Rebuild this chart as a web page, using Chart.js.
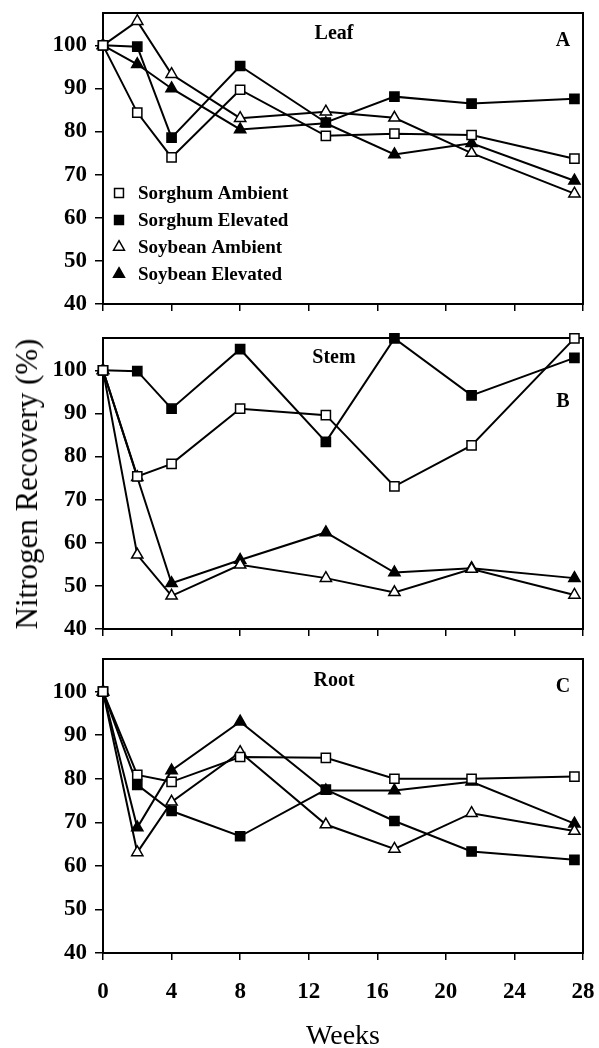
<!DOCTYPE html>
<html>
<head>
<meta charset="utf-8">
<script src="https://cdn.jsdelivr.net/npm/chart.js@4.4.1/dist/chart.umd.min.js"></script>
<style>
  body { margin: 0; background: #fff; }
  #wrap { position: relative; width: 599px; height: 1048px; overflow: hidden; }
  canvas { position: absolute; left: 0; }
  #ytitle {
    position: absolute; left: 27px; top: 484px;
    transform: translate(-50%, -50%) rotate(-90deg);
    font: 31px "Liberation Serif", "Times New Roman", serif;
    white-space: nowrap; color: #000;
  }
</style>
</head>
<body>
<div id="wrap">
  <canvas id="leaf" width="599" height="320" style="top:0"></canvas>
  <canvas id="stem" width="599" height="320" style="top:320px"></canvas>
  <canvas id="root" width="599" height="408" style="top:640px"></canvas>
  <div id="ytitle">Nitrogen Recovery (%)</div>
</div>
<script>
(function(){
  'use strict';

  const weeks = [0, 2, 4, 8, 13, 17, 21.5, 27.5];
  const seriesNames = ['Sorghum Ambient', 'Sorghum Elevated', 'Soybean Ambient', 'Soybean Elevated'];
  const yTickValues = [40, 50, 60, 70, 80, 90, 100];
  const xTickValues = [0, 4, 8, 12, 16, 20, 24, 28];

  // A - leaf
  const leafSorghumAmb = [100, 84.4, 74.0, 89.7, 79.0, 79.5, 79.2, 73.7];
  const leafSorghumElev = [100, 99.7, 78.6, 95.2, 82.1, 88.1, 86.5, 87.6];
  const leafSoyAmb = [100, 105.6, 93.3, 83.1, 84.6, 83.2, 75.0, 65.6];
  const leafSoyElev = [100, 95.6, 90.0, 80.5, 81.9, 74.7, 77.3, 68.6];

  // B - stem
  const stemSorghumAmb = [100, 75.4, 78.3, 91.1, 89.6, 73.1, 82.6, 107.4];
  const stemSorghumElev = [100, 99.8, 91.1, 104.9, 83.4, 107.4, 94.2, 102.9];
  const stemSoyAmb = [100, 57.2, 47.7, 54.9, 51.8, 48.5, 53.9, 47.9];
  const stemSoyElev = [100, 75.2, 50.6, 56.0, 62.4, 53.1, 54.1, 51.8];

  // C - root
  const rootSorghumAmb = [100, 80.9, 79.3, 85.0, 84.8, 80.0, 80.0, 80.5];
  const rootSorghumElev = [100, 78.6, 72.6, 66.8, 77.5, 70.3, 63.3, 61.4];
  const rootSoyAmb = [100, 63.1, 74.7, 86.1, 69.5, 63.9, 72.1, 68.0];
  const rootSoyElev = [100, 68.8, 81.9, 93.1, 77.3, 77.3, 79.3, 69.7];

  const styles = [
    { pointStyle: 'rect', fill: '#fff', r: 6.5 },
    { pointStyle: 'rect', fill: '#000', r: 6.5 },
    { pointStyle: 'triangle', fill: '#fff', r: 6.5 },
    { pointStyle: 'triangle', fill: '#000', r: 6.5 }
  ];

  const serif = '"Liberation Serif", "Times New Roman", serif';

  function drawMarker(ctx, style, x, y, r) {
    ctx.beginPath();
    if (style.pointStyle === 'rect') {
      const s = r * Math.SQRT1_2;
      ctx.rect(x - s, y - s, 2 * s, 2 * s);
    } else {
      ctx.moveTo(x, y - r);
      ctx.lineTo(x + r * 0.866, y + r * 0.5);
      ctx.lineTo(x - r * 0.866, y + r * 0.5);
      ctx.closePath();
    }
    ctx.fillStyle = style.fill;
    ctx.fill();
    ctx.lineWidth = 1.5;
    ctx.strokeStyle = '#000';
    ctx.stroke();
  }

  // frame + panel name + letter (+ legend on the leaf panel)
  const panelPlugin = {
    id: 'panel',
    beforeDatasetsDraw(chart, args, opts) {
      const a = chart.chartArea, ctx = chart.ctx;
      ctx.save();
      ctx.strokeStyle = '#000';
      ctx.lineWidth = 2;
      ctx.strokeRect(a.left, a.top, a.right - a.left, a.bottom - a.top);
      ctx.fillStyle = '#000';
      ctx.font = 'bold 20px ' + serif;
      ctx.textAlign = 'center';
      ctx.textBaseline = 'middle';
      ctx.fillText(opts.title, a.left + 231, a.top + opts.titleDy);
      ctx.fillText(opts.letter, a.right - 20, a.top + opts.letterDy);
      if (opts.legend) {
        ctx.font = 'bold 19px ' + serif;
        ctx.textAlign = 'left';
        seriesNames.forEach((name, i) => {
          const y = a.top + 180 + 27 * i;
          drawMarker(ctx, styles[i], a.left + 16, y, 6.3);
          ctx.fillStyle = '#000';
          ctx.fillText(name, a.left + 35, y + 1);
        });
      }
      ctx.restore();
    }
  };

  function makePanel(id, values, opts) {
    const datasets = values.map((vals, i) => ({
      label: seriesNames[i],
      data: weeks.map((w, j) => ({ x: w, y: vals[j] })),
      borderColor: '#000',
      borderWidth: 2,
      pointStyle: styles[i].pointStyle,
      pointRadius: styles[i].r,
      pointBackgroundColor: styles[i].fill,
      pointBorderColor: '#000',
      pointBorderWidth: 1.5,
      tension: 0,
      clip: false
    }));
    return new Chart(document.getElementById(id), {
      type: 'line',
      data: { datasets },
      options: {
        responsive: false,
        animation: false,
        events: [],
        layout: { padding: { top: opts.padTop, right: 16, left: 0, bottom: 0 } },
        plugins: {
          legend: { display: false },
          tooltip: { enabled: false },
          panel: opts
        },
        scales: {
          x: {
            type: 'linear', min: 0, max: 28,
            afterBuildTicks: s => { s.ticks = xTickValues.map(v => ({ value: v })); },
            afterFit: s => { s.height = opts.xHeight; },
            grid: { drawOnChartArea: false, drawTicks: true, tickLength: 7, color: '#000', lineWidth: 1.5 },
            border: { display: true, color: '#000', width: 2 },
            ticks: {
              display: opts.xLabels, color: '#000', padding: 0, maxRotation: 0,
              font: { family: serif, size: 23, weight: 'bold', lineHeight: 2.8 }
            },
            title: {
              display: opts.xLabels, text: 'Weeks', color: '#000',
              font: { family: serif, size: 28, lineHeight: 1 }, padding: { top: 0, bottom: -3 }
            }
          },
          y: {
            type: 'linear', min: 40, max: 107.5,
            afterBuildTicks: s => { s.ticks = yTickValues.map(v => ({ value: v })); },
            afterFit: s => { s.width = 103; },
            grid: { drawOnChartArea: false, drawTicks: true, tickLength: 8, color: '#000', lineWidth: 1.5 },
            border: { display: true, color: '#000', width: 2 },
            ticks: {
              color: '#000', padding: 8,
              font: { family: serif, size: 23, weight: 'bold', lineHeight: 0.2 }
            }
          }
        }
      },
      plugins: [panelPlugin]
    });
  }

  makePanel('leaf', [leafSorghumAmb, leafSorghumElev, leafSoyAmb, leafSoyElev],
    { title: 'Leaf', letter: 'A', titleDy: 21, letterDy: 28, legend: true, padTop: 13, xHeight: 16, xLabels: false });
  makePanel('stem', [stemSorghumAmb, stemSorghumElev, stemSoyAmb, stemSoyElev],
    { title: 'Stem', letter: 'B', titleDy: 20, letterDy: 64, legend: false, padTop: 18, xHeight: 11, xLabels: false });
  makePanel('root', [rootSorghumAmb, rootSorghumElev, rootSoyAmb, rootSoyElev],
    { title: 'Root', letter: 'C', titleDy: 22, letterDy: 28, legend: false, padTop: 19, xHeight: 95, xLabels: true });
})();
</script>
</body>
</html>
